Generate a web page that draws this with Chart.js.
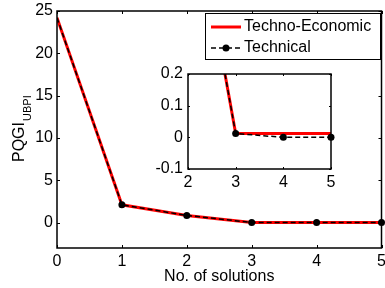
<!DOCTYPE html>
<html lang="en">
<head>
    <meta charset="UTF-8">
    <title>PQGI UBPI vs number of solutions</title>
    <style>
        body {
            margin: 0;
            background-color: #fff;
        }
        #wrap {
            position: relative;
            width: 385px;
            height: 288px;
        }
        #insetChart {
            position: absolute;
            left: 150px;
            top: 62px;
        }
    </style>
</head>
<body>
    <div id="wrap">
        <canvas id="mainChart" width="385" height="288"></canvas>
        <canvas id="insetChart" width="190" height="129"></canvas>
    </div>

    <script src="https://cdn.jsdelivr.net/npm/chart.js"></script>
    <script>
var solutions = [0, 1, 2, 3, 4, 5];
var technoEconomic = [24.2, 2.1, 0.85, 0.012, 0.012, 0.012];
var technical = [24.2, 2.1, 0.85, 0.012, 0, 0];

var mainXTicks = [0, 1, 2, 3, 4, 5];
var mainYTicks = [0, 5, 10, 15, 20, 25];
var insetXTicks = [2, 3, 4, 5];
var insetYTicks = [-0.1, 0, 0.1, 0.2];

var FONT = "'Liberation Sans', Arial, sans-serif";

function toPoints(values) {
    return values.map(function (v, i) { return {x: solutions[i], y: v}; });
}

function makeDatasets(clipRight) {
    return [
        {
            label: 'Technical',
            data: toPoints(technical),
            borderColor: '#000',
            backgroundColor: '#000',
            borderWidth: 1.5,
            borderDash: [5, 3],
            pointRadius: function (ctx) { return ctx.dataIndex === 0 ? 0 : 3.5; },
            pointHoverRadius: 0,
            pointBorderWidth: 0,
            clip: {left: 0, top: 0, right: clipRight, bottom: 0},
            order: 1
        },
        {
            label: 'Techno-Economic',
            data: toPoints(technoEconomic),
            borderColor: '#ff0000',
            borderWidth: 3,
            pointRadius: 0,
            clip: {left: 0, top: 0, right: clipRight, bottom: 0},
            order: 2
        }
    ];
}

// box round the axes and inward ticks on all four sides
function boxPlugin(tickLen) {
    return {
        id: 'box',
        afterDraw: function (chart) {
            var ctx = chart.ctx;
            var a = chart.chartArea;
            var xs = chart.scales.x, ys = chart.scales.y;
            ctx.save();
            ctx.strokeStyle = '#000';
            ctx.lineWidth = 1;
            ctx.beginPath();
            xs.ticks.forEach(function (t) {
                var px = Math.round(xs.getPixelForValue(t.value)) + 0.5;
                ctx.moveTo(px, a.bottom); ctx.lineTo(px, a.bottom - tickLen);
                ctx.moveTo(px, a.top); ctx.lineTo(px, a.top + tickLen);
            });
            ys.ticks.forEach(function (t) {
                var py = Math.round(ys.getPixelForValue(t.value)) + 0.5;
                ctx.moveTo(a.left, py); ctx.lineTo(a.left + tickLen, py);
                ctx.moveTo(a.right, py); ctx.lineTo(a.right - tickLen, py);
            });
            ctx.stroke();
            ctx.lineWidth = 1.5;
            ctx.strokeRect(a.left, a.top, a.right - a.left, a.bottom - a.top);
            ctx.restore();
        }
    };
}

var extrasPlugin = {
    id: 'extras',
    afterDraw: function (chart) {
        var ctx = chart.ctx;
        ctx.save();

        // y axis title with subscript
        ctx.fillStyle = '#000';
        ctx.translate(24, 162);
        ctx.rotate(-Math.PI / 2);
        ctx.font = '16px ' + FONT;
        ctx.textBaseline = 'alphabetic';
        ctx.textAlign = 'left';
        ctx.fillText('PQGI', 0, 0);
        var w = ctx.measureText('PQGI').width;
        ctx.font = '11px ' + FONT;
        ctx.fillText('UBPI', w + 1, 6.5);
        ctx.setTransform(1, 0, 0, 1, 0, 0);

        // legend
        ctx.fillStyle = '#fff';
        ctx.fillRect(205, 13, 175, 46);
        ctx.strokeStyle = '#000';
        ctx.lineWidth = 1;
        ctx.strokeRect(205.5, 13.5, 175, 46);

        ctx.strokeStyle = '#ff0000';
        ctx.lineWidth = 3;
        ctx.beginPath();
        ctx.moveTo(211, 27); ctx.lineTo(241, 27);
        ctx.stroke();

        ctx.strokeStyle = '#000';
        ctx.lineWidth = 1.5;
        ctx.setLineDash([5, 3]);
        ctx.beginPath();
        ctx.moveTo(211, 48); ctx.lineTo(241, 48);
        ctx.stroke();
        ctx.setLineDash([]);
        ctx.fillStyle = '#000';
        ctx.beginPath();
        ctx.arc(226, 48, 3.5, 0, Math.PI * 2);
        ctx.fill();

        ctx.font = '16px ' + FONT;
        ctx.textBaseline = 'middle';
        ctx.fillText('Techno-Economic', 244, 27);
        ctx.fillText('Technical', 244, 48);
        ctx.restore();
    }
};

function setTicks(list) {
    return function (scale) {
        scale.ticks = list.map(function (v) { return {value: v}; });
    };
}

function fixSize(prop, size) {
    return function (scale) {
        scale[prop] = size;
        scale.paddingLeft = 0;
        scale.paddingRight = 0;
        scale.paddingTop = 0;
        scale.paddingBottom = 0;
    };
}

var tickFont = {family: FONT, size: 16};
var noGrid = {display: false, drawTicks: false, tickLength: 0};

new Chart(document.getElementById('mainChart'), {
    type: 'line',
    data: {datasets: makeDatasets(5)},
    options: {
        responsive: false,
        animation: false,
        events: [],
        layout: {padding: {left: 0, top: 11, right: 2, bottom: 0}},
        plugins: {legend: {display: false}, tooltip: {enabled: false}},
        scales: {
            x: {
                type: 'linear',
                min: 0,
                max: 5,
                afterBuildTicks: setTicks(mainXTicks),
                afterFit: fixSize('height', 40),
                grid: noGrid,
                border: {display: false},
                ticks: {font: tickFont, color: '#000', padding: 4, maxRotation: 0},
                title: {
                    display: true,
                    text: 'No. of solutions',
                    font: tickFont,
                    color: '#000',
                    padding: {top: 0, bottom: 2}
                }
            },
            y: {
                type: 'linear',
                min: -3,
                max: 25,
                afterBuildTicks: setTicks(mainYTicks),
                afterFit: fixSize('width', 57),
                grid: noGrid,
                border: {display: false},
                ticks: {font: tickFont, color: '#000', padding: 4}
            }
        }
    },
    plugins: [boxPlugin(3), extrasPlugin]
});

new Chart(document.getElementById('insetChart'), {
    type: 'line',
    data: {datasets: makeDatasets(5)},
    options: {
        responsive: false,
        animation: false,
        events: [],
        layout: {padding: {left: 0, top: 12, right: 9, bottom: 0}},
        plugins: {legend: {display: false}, tooltip: {enabled: false}},
        scales: {
            x: {
                type: 'linear',
                min: 2,
                max: 5,
                afterBuildTicks: setTicks(insetXTicks),
                afterFit: fixSize('height', 22),
                grid: noGrid,
                border: {display: false},
                ticks: {font: tickFont, color: '#000', padding: 4, maxRotation: 0}
            },
            y: {
                type: 'linear',
                min: -0.1,
                max: 0.2,
                afterBuildTicks: setTicks(insetYTicks),
                afterFit: fixSize('width', 38),
                grid: noGrid,
                border: {display: false},
                ticks: {
                    font: tickFont,
                    color: '#000',
                    padding: 5,
                    callback: function (v) { return String(v); }
                }
            }
        }
    },
    plugins: [boxPlugin(2)]
});
    </script>
</body>
</html>
